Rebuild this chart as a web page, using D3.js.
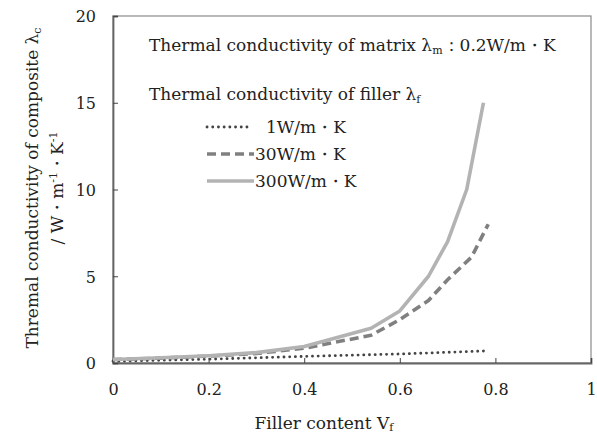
<!DOCTYPE html>
<html>
<head>
<meta charset="utf-8">
<script src="https://cdn.jsdelivr.net/npm/d3@7"></script>
<style>
  body { margin: 0; background: #fff; }
  svg text { font-family: "DejaVu Serif", serif; fill: #222; }
</style>
</head>
<body>
<div id="chart"></div>
<script>
// data
const vf1 = [0, 0.2, 0.4, 0.6, 0.785];
const k1 = [0.1, 0.22, 0.38, 0.52, 0.7];

const vf30 = [0, 0.1, 0.2, 0.3, 0.4, 0.54, 0.6, 0.66, 0.7, 0.75, 0.785];
const k30 = [0.2, 0.28, 0.4, 0.55, 0.85, 1.6, 2.5, 3.6, 4.8, 6.1, 8.0];

const vf300 = [0, 0.1, 0.2, 0.3, 0.4, 0.54, 0.6, 0.66, 0.7, 0.74, 0.775];
const k300 = [0.2, 0.3, 0.42, 0.6, 0.95, 2.0, 3.0, 5.0, 7.0, 10.0, 15.0];

const xTicks = [0, 0.2, 0.4, 0.6, 0.8, 1];
const yTicks = [0, 5, 10, 15, 20];
const legendLabels = ["1W/m\u30FBK", "30W/m\u30FBK", "300W/m\u30FBK"];

const width = 597, height = 436;
const margin = {top: 16, right: 6, bottom: 73, left: 113};
const fs = 17;

const svg = d3.select("#chart").append("svg")
    .attr("width", width)
    .attr("height", height);

const x = d3.scaleLinear([0, 1], [margin.left, width - margin.right]);
const y = d3.scaleLinear([0, 20], [height - margin.bottom, margin.top]);

// frame
svg.append("rect")
    .attr("x", x(0)).attr("y", y(20))
    .attr("width", x(1) - x(0)).attr("height", y(0) - y(20))
    .attr("fill", "none").attr("stroke", "#8a8a8a").attr("stroke-width", 1.2);

// axes, ticks pointing inward
const axisX = svg.append("g")
    .attr("transform", `translate(0,${y(0)})`)
    .call(d3.axisBottom(x).tickValues(xTicks).tickSize(-5).tickPadding(21)
        .tickFormat(d => d === 0 || d === 1 ? d : d3.format(".1f")(d)));
const axisY = svg.append("g")
    .attr("transform", `translate(${x(0)},0)`)
    .call(d3.axisLeft(y).tickValues(yTicks).tickSize(-5).tickPadding(17));

[axisX, axisY].forEach(g => {
  g.attr("font-family", null);
  g.select(".domain").attr("stroke", "#666").attr("stroke-width", 1.8);
  g.selectAll(".tick line").attr("stroke", "#444");
  g.selectAll(".tick text").attr("font-size", 16).attr("fill", "#333");
});
axisY.selectAll(".tick text").attr("dy", "0.36em");

const line = d3.line().x(d => x(d[0])).y(d => y(d[1]));

const series = [
  {vf: vf1, k: k1, color: "#444", width: 2.8, dash: "0.1 5.6", cap: "round"},
  {vf: vf30, k: k30, color: "#808080", width: 3.6, dash: "9 5", cap: "butt"},
  {vf: vf300, k: k300, color: "#b3b3b3", width: 3.6, dash: null, cap: "butt"}
];

series.forEach(s => {
  svg.append("path")
      .datum(d3.zip(s.vf, s.k))
      .attr("d", line)
      .attr("fill", "none")
      .attr("stroke", s.color)
      .attr("stroke-width", s.width)
      .attr("stroke-dasharray", s.dash)
      .attr("stroke-linecap", s.cap)
      .attr("stroke-linejoin", "round");
});

// annotation + legend
const note = svg.append("text").attr("x", 149).attr("y", 51).attr("font-size", fs);
note.append("tspan").text("Thermal conductivity of matrix \u03BB");
note.append("tspan").attr("font-size", 11).attr("dy", 3).text("m");
note.append("tspan").attr("dy", -3).text("\uFF1A0.2W/m\u30FBK");

const head = svg.append("text").attr("x", 149).attr("y", 100).attr("font-size", fs);
head.append("tspan").text("Thermal conductivity of filler \u03BB");
head.append("tspan").attr("font-size", 11).attr("dy", 3).text("f");

const legY = [127, 154, 181];
const legTextX = [266, 255, 255];
series.forEach((s, i) => {
  svg.append("line")
      .attr("x1", 207).attr("x2", i === 0 ? 250 : 254)
      .attr("y1", legY[i]).attr("y2", legY[i])
      .attr("stroke", s.color)
      .attr("stroke-width", s.width)
      .attr("stroke-dasharray", s.dash)
      .attr("stroke-linecap", s.cap);
  svg.append("text")
      .attr("x", legTextX[i]).attr("y", legY[i] + 6)
      .attr("font-size", fs)
      .text(legendLabels[i]);
});

// axis titles
const xt = svg.append("text").attr("x", 324).attr("y", 429)
    .attr("text-anchor", "middle").attr("font-size", fs);
xt.append("tspan").text("Filler content V");
xt.append("tspan").attr("font-size", 11).attr("dy", 2).text("f");

const yt = svg.append("g").attr("transform", "translate(38,188) rotate(-90)");
const yt1 = yt.append("text").attr("text-anchor", "middle").attr("font-size", fs);
yt1.append("tspan").text("Thremal conductivity of composite \u03BB");
yt1.append("tspan").attr("font-size", 11).attr("dy", 3).text("c");
const yt2 = yt.append("text").attr("y", 25).attr("text-anchor", "middle").attr("font-size", fs);
yt2.append("tspan").text("/ W\u30FBm");
yt2.append("tspan").attr("font-size", 11).attr("dy", -6).text("-1");
yt2.append("tspan").attr("dy", 6).text("\u30FBK");
yt2.append("tspan").attr("font-size", 11).attr("dy", -6).text("-1");
</script>
</body>
</html>
